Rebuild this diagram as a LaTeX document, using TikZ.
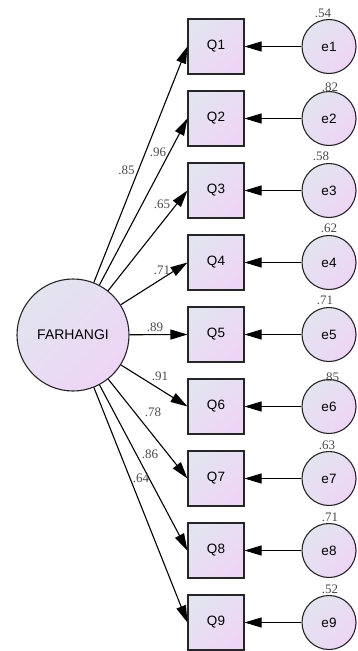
\documentclass[tikz,border=0pt]{standalone}
\usepackage{fontspec}
\setmainfont{Liberation Serif}
\newfontfamily\arialfont{Liberation Sans}
\usetikzlibrary{arrows.meta}
\definecolor{fillA}{RGB}{226,228,240}
\definecolor{fillB}{RGB}{238,213,245}
\definecolor{coef}{RGB}{75,75,75}
\begin{document}
\begin{tikzpicture}[x=1pt,y=1pt,
  shaded/.style={draw=black!85, line width=1.1pt, top color=fillA, bottom color=fillB, shading angle=45},
  item/.style={shaded, rectangle, minimum width=56pt, minimum height=55pt, inner sep=0pt, font=\arialfont\fontsize{13.5}{13.5}\selectfont},
  err/.style={shaded, circle, minimum size=54pt, inner sep=0pt, font=\arialfont\fontsize{13.5}{13.5}\selectfont},
  factor/.style={shaded, circle, minimum size=112pt, inner sep=0pt, font=\arialfont\fontsize{14}{14}\selectfont},
  path/.style={line width=1.1pt, -{Triangle[length=17pt,width=10pt]}},
  val/.style={inner sep=0pt, text=coef, font=\fontsize{13}{13}\selectfont}
]
\useasboundingbox (0,0) rectangle (357,-651);

% latent factor
\node[factor] (F) at (73,-335) {FARHANGI};

% indicators and their error terms
\foreach \k in {1,...,9}{
  \pgfmathsetmacro{\yy}{-(46.5+72*(\k-1))}
  \node[item] (Q\k) at (216,\yy) {Q\k};
  \node[err]  (e\k) at (329,\yy) {e\k};
  \draw[path] (e\k) -- (Q\k);
  \draw[path] (F) -- (Q\k.west);
}

% standardized loadings
\node[val] (l1) at (126.5,-170) {.85};
\node[val] (l2) at (158,-152) {.96};
\node[val] (l3) at (162,-204) {.65};
\node[val] (l4) at (162,-270) {.71};
\node[val] (l5) at (155,-327) {.89};
\node[val] (l6) at (160,-376) {.91};
\node[val] (l7) at (153,-412) {.78};
\node[val] (l8) at (150,-454) {.86};
\node[val] (l9) at (141,-478) {.64};

% squared multiple correlations
\node[val] (r1) at (323,-13) {.54};
\node[val] (r2) at (330,-87) {.82};
\node[val] (r3) at (321,-156) {.58};
\node[val] (r4) at (329,-228) {.62};
\node[val] (r5) at (325,-300) {.71};
\node[val] (r6) at (331,-377) {.85};
\node[val] (r7) at (327,-445) {.63};
\node[val] (r8) at (330,-517) {.71};
\node[val] (r9) at (330,-589) {.52};
\end{tikzpicture}
\end{document}
